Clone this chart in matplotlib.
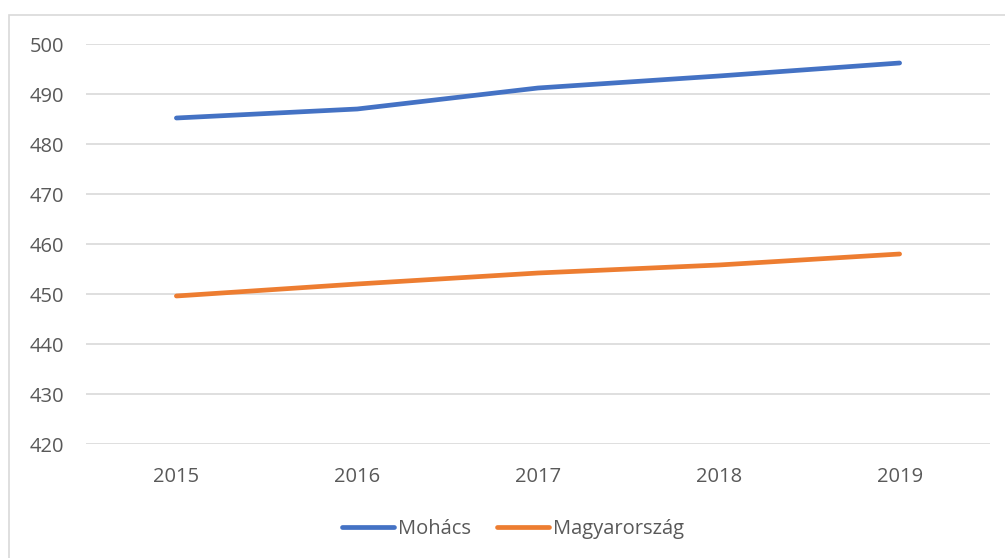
import matplotlib.pyplot as plt
from matplotlib.patches import Rectangle

years = ['2015', '2016', '2017', '2018', '2019']
mohacs = [485.2, 487.0, 491.2, 493.6, 496.2]
magyarorszag = [449.6, 452.0, 454.2, 455.8, 458.0]

W, H = 1005, 558
plt.rcParams['font.family'] = ['Open Sans', 'DejaVu Sans']
text_color = '#595959'
grid_color = '#d9d9d9'

fig = plt.figure(figsize=(W / 100, H / 100), dpi=100)
ax = fig.add_axes([86 / W, 1 - 444 / H, (990 - 86) / W, 400 / H])

# chart border (cut off on the right and bottom)
fig.patches.append(Rectangle((9 / W, -0.1), 1.2, 1.1 - 15 / H, transform=fig.transFigure,
                             fill=False, edgecolor=grid_color, linewidth=1.2))

x = range(len(years))
ax.plot(x, mohacs, color='#4472c4', linewidth=3.4, solid_capstyle='round', label='Mohács')
ax.plot(x, magyarorszag, color='#ed7d31', linewidth=3.4, solid_capstyle='round', label='Magyarország')

ax.set_xlim(-0.5, len(years) - 0.5)
ax.set_ylim(420, 500)
ax.set_yticks(range(420, 501, 10))
ax.set_xticks(list(x))
ax.set_xticklabels(years)
ax.grid(axis='y', color=grid_color, linewidth=1.2)
ax.set_axisbelow(True)
for s in ax.spines.values():
    s.set_visible(False)
ax.tick_params(axis='both', length=0, labelsize=14.5, labelcolor=text_color)
ax.tick_params(axis='y', pad=16)
ax.tick_params(axis='x', pad=16.5)

fig.legend(loc='center', bbox_to_anchor=(513 / W, 1 - 529 / H), ncol=2, frameon=False,
           fontsize=14.5, labelcolor=text_color, handlelength=2.6, handletextpad=0.2,
           columnspacing=1.3)

plt.savefig('out.png', dpi=100)
